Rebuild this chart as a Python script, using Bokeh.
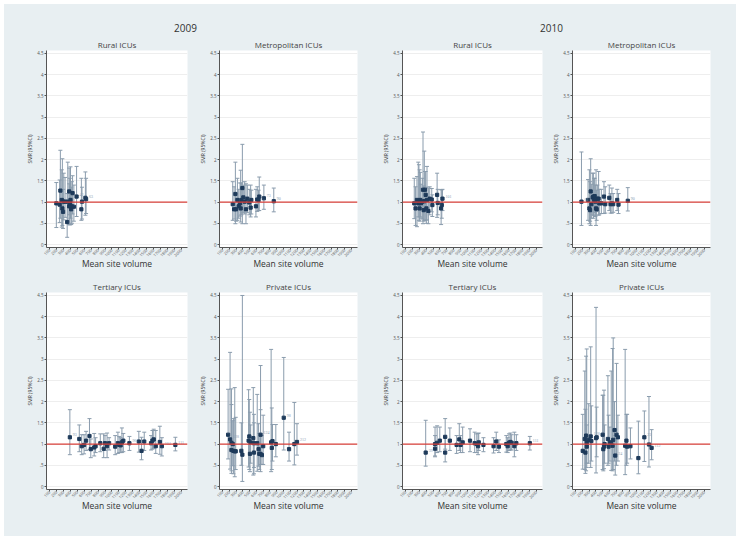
from bokeh.plotting import figure
from bokeh.models import ColumnDataSource, Whisker, TeeHead, Span, FixedTicker, Label, Range1d
from bokeh.layouts import column, row
from bokeh.embed import file_html
from bokeh.resources import INLINE

# ---------------- data ----------------
years = ["2009", "2010"]
panel_names = ["Rural ICUs", "Metropolitan ICUs", "Tertiary ICUs", "Private ICUs"]
x_ticks = list(range(100, 2001, 100))
y_ticks = [0, 0.5, 1, 1.5, 2, 2.5, 3, 3.5, 4, 4.5]
y_tick_labels = ["0", ".5", "1", "1.5", "2", "2.5", "3", "3.5", "4", "4.5"]

# Rural 2009
r09_x   = [198, 246, 256, 276, 285, 295, 305, 324, 354, 363, 383, 383, 393, 402, 412, 422, 432, 451, 490, 559, 568, 617, 627]
r09_smr = [0.97, 0.94, 1.27, 1.05, 0.85, 0.77, 1.01, 1.01, 0.53, 1.01, 1.25, 0.90, 0.97, 1.05, 0.83, 0.90, 1.21, 0.89, 1.13, 0.83, 1.01, 1.10, 1.07]
r09_lo  = [0.40, 0.52, 0.62, 0.41, 0.45, 0.38, 0.58, 0.64, 0.17, 0.55, 0.70, 0.47, 0.46, 0.62, 0.47, 0.50, 0.72, 0.55, 0.66, 0.57, 0.60, 0.69, 0.73]
r09_hi  = [1.46, 1.52, 2.22, 1.76, 2.02, 1.30, 1.68, 1.58, 1.20, 1.94, 1.80, 1.43, 1.56, 1.83, 1.35, 1.48, 1.62, 1.40, 1.84, 1.56, 1.35, 1.71, 1.56]
r09_lab = ["", "", "", "", "", "", "", "", "", "", "", "", "", "", "", "", "", "", "42", "", "", "", "63"]

# Metropolitan 2009
m09_x   = [251, 271, 290, 300, 320, 339, 359, 368, 378, 393, 407, 427, 446, 466, 495, 515, 525, 593, 612, 632, 642, 710, 856]
m09_smr = [0.95, 0.83, 1.19, 0.83, 1.05, 0.90, 0.97, 0.85, 1.05, 1.33, 1.11, 1.01, 0.83, 1.08, 0.99, 0.87, 1.05, 0.90, 1.06, 1.05, 1.13, 1.09, 1.02]
m09_lo  = [0.57, 0.60, 0.49, 0.55, 0.57, 0.62, 0.67, 0.53, 0.70, 0.49, 0.75, 0.72, 0.49, 0.75, 0.70, 0.65, 0.72, 0.65, 0.78, 0.80, 0.80, 0.83, 0.77]
m09_hi  = [1.48, 1.36, 1.94, 1.20, 1.56, 1.30, 1.45, 1.75, 1.45, 2.36, 1.40, 1.48, 1.43, 1.40, 1.30, 1.40, 1.28, 1.30, 1.36, 1.28, 1.59, 1.40, 1.33]
m09_lab = ["", "", "", "", "", "", "", "", "", "", "", "", "", "", "", "", "", "", "", "", "", "73", "90"]

# Tertiary 2009
t09_x   = [393, 529, 564, 598, 627, 676, 695, 744, 764, 832, 881, 900, 930, 959, 1047, 1086, 1105, 1125, 1144, 1164, 1252, 1388, 1427, 1466, 1564, 1584, 1603, 1632, 1691, 1720, 1915]
t09_smr = [1.16, 1.12, 0.95, 0.98, 1.08, 1.19, 0.88, 0.92, 0.95, 1.02, 0.89, 1.02, 0.95, 1.02, 0.94, 1.02, 0.98, 0.97, 1.04, 1.08, 1.02, 1.06, 0.84, 1.06, 1.02, 1.08, 1.11, 0.95, 1.05, 0.95, 0.98]
t09_lo  = [0.75, 0.82, 0.75, 0.77, 0.85, 0.87, 0.68, 0.72, 0.80, 0.82, 0.68, 0.85, 0.68, 0.86, 0.75, 0.78, 0.80, 0.80, 0.80, 0.82, 0.85, 0.81, 0.63, 0.85, 0.86, 0.88, 0.90, 0.78, 0.76, 0.72, 0.84]
t09_hi  = [1.81, 1.45, 1.22, 1.22, 1.30, 1.60, 1.12, 1.25, 1.15, 1.24, 1.24, 1.20, 1.26, 1.15, 1.20, 1.28, 1.18, 1.15, 1.38, 1.25, 1.18, 1.30, 1.16, 1.28, 1.20, 1.32, 1.35, 1.32, 1.42, 1.15, 1.16]
t09_lab = ["93", "", "", "", "", "", "", "", "", "", "", "", "", "", "", "", "", "", "", "", "96", "", "", "", "", "", "", "", "", "104", "111"]

# Private 2009
p09_x   = [183, 212, 232, 232, 251, 261, 281, 295, 378, 393, 485, 495, 505, 515, 554, 564, 564, 612, 632, 642, 661, 661, 681, 700, 817, 827, 837, 886, 1003, 1081, 1159, 1198]
p09_smr = [1.22, 1.11, 1.03, 0.86, 1.00, 0.84, 0.83, 0.83, 0.84, 0.75, 1.08, 1.18, 0.77, 1.04, 1.14, 1.02, 0.80, 1.02, 0.88, 0.77, 1.22, 0.77, 0.74, 0.95, 1.04, 0.91, 1.07, 1.00, 1.62, 0.88, 1.00, 1.05]
p09_lo  = [0.65, 0.41, 0.37, 0.31, 0.49, 0.30, 0.23, 0.40, 0.50, 0.12, 0.46, 0.40, 0.35, 0.55, 0.27, 0.45, 0.30, 0.36, 0.48, 0.40, 0.52, 0.35, 0.52, 0.52, 0.35, 0.40, 0.60, 0.70, 0.86, 0.60, 0.51, 0.74]
p09_hi  = [2.29, 3.16, 2.30, 1.93, 1.55, 1.60, 2.33, 1.63, 1.50, 4.50, 2.28, 2.05, 1.75, 1.45, 2.33, 1.70, 1.50, 2.17, 1.48, 1.25, 2.85, 1.81, 1.20, 1.68, 3.23, 1.85, 1.46, 1.46, 3.04, 1.28, 1.98, 1.48]
p09_lab = ["", "128", "", "", "", "", "", "", "", "", "", "", "", "", "", "", "", "", "", "", "124", "", "", "", "", "", "", "", "98", "", "", "212"]

# Rural 2010
r10_x   = [227, 246, 266, 285, 295, 305, 315, 324, 344, 354, 364, 373, 383, 393, 403, 412, 432, 451, 481, 490, 559, 568, 617, 627, 637]
r10_smr = [0.97, 0.85, 1.05, 0.97, 1.01, 0.85, 1.05, 0.97, 1.01, 1.29, 0.81, 1.02, 1.29, 1.17, 0.85, 1.05, 0.79, 1.08, 1.06, 0.93, 1.17, 0.98, 0.85, 0.93, 1.08]
r10_lo  = [0.61, 0.45, 0.42, 0.65, 0.57, 0.55, 0.65, 0.62, 0.60, 0.49, 0.55, 0.57, 0.80, 0.57, 0.50, 0.58, 0.49, 0.70, 0.77, 0.66, 0.64, 0.70, 0.47, 0.62, 0.80]
r10_hi  = [1.56, 1.36, 1.60, 1.94, 1.88, 1.76, 1.70, 1.42, 1.56, 2.65, 1.38, 2.20, 1.72, 1.72, 1.35, 1.84, 1.33, 1.36, 1.32, 1.17, 1.68, 1.30, 1.29, 1.29, 1.30]
r10_lab = [""] * 24 + ["101"]

# Metropolitan 2010
m10_x   = [188, 285, 305, 315, 324, 334, 354, 364, 373, 383, 393, 403, 412, 422, 441, 451, 481, 520, 539, 598, 617, 637, 656, 715, 734, 871]
m10_smr = [1.01, 1.05, 0.85, 0.81, 1.25, 0.95, 1.11, 1.13, 1.05, 1.14, 1.01, 0.85, 0.83, 1.08, 1.08, 0.97, 0.97, 1.13, 0.95, 1.10, 0.95, 0.97, 0.95, 1.05, 0.94, 1.03]
m10_lo  = [0.45, 0.57, 0.49, 0.55, 0.45, 0.62, 0.70, 0.62, 0.68, 0.75, 0.66, 0.45, 0.57, 0.78, 0.69, 0.70, 0.73, 0.73, 0.74, 0.80, 0.74, 0.74, 0.76, 0.80, 0.73, 0.79]
m10_hi  = [2.18, 1.53, 1.76, 1.48, 2.02, 1.42, 1.68, 1.68, 1.56, 1.56, 1.40, 1.76, 1.28, 1.40, 1.72, 1.30, 1.30, 1.48, 1.36, 1.40, 1.20, 1.33, 1.20, 1.30, 1.20, 1.34]
m10_lab = ["61"] + [""] * 24 + ["90"]

# Tertiary 2010
t10_x   = [393, 529, 529, 559, 598, 676, 676, 744, 842, 881, 900, 930, 1037, 1105, 1135, 1154, 1164, 1232, 1379, 1418, 1457, 1564, 1584, 1603, 1623, 1642, 1681, 1710, 1906]
t10_smr = [0.80, 1.00, 0.89, 1.03, 1.08, 1.17, 0.80, 1.08, 0.98, 1.11, 0.98, 1.04, 1.08, 1.02, 1.00, 0.95, 1.04, 0.98, 0.95, 1.06, 0.94, 1.00, 0.95, 1.03, 1.05, 1.03, 0.95, 1.02, 1.02]
t10_lo  = [0.48, 0.70, 0.72, 0.80, 0.82, 0.88, 0.58, 0.85, 0.78, 0.85, 0.80, 0.80, 0.82, 0.80, 0.80, 0.75, 0.85, 0.82, 0.79, 0.85, 0.80, 0.81, 0.80, 0.85, 0.86, 0.86, 0.70, 0.85, 0.86]
t10_hi  = [1.56, 1.40, 1.20, 1.43, 1.40, 1.60, 1.16, 1.38, 1.20, 1.48, 1.20, 1.40, 1.36, 1.28, 1.24, 1.25, 1.26, 1.15, 1.15, 1.28, 1.10, 1.20, 1.15, 1.24, 1.26, 1.22, 1.28, 1.22, 1.18]
t10_lab = ["39"] + [""] * 27 + ["111"]

# Private 2010
p10_x   = [207, 237, 246, 256, 266, 266, 295, 324, 334, 403, 412, 500, 510, 520, 529, 578, 588, 607, 627, 647, 656, 676, 686, 705, 725, 832, 851, 861, 910, 1027, 1115, 1183, 1222]
p10_smr = [0.84, 1.12, 0.80, 1.20, 1.04, 0.94, 1.10, 1.18, 1.07, 1.14, 1.16, 1.22, 0.88, 0.94, 1.00, 1.12, 0.94, 1.04, 1.03, 0.96, 1.10, 1.33, 0.73, 1.22, 1.16, 0.96, 1.08, 0.94, 0.95, 0.67, 1.16, 0.99, 0.91]
p10_lo  = [0.41, 0.40, 0.31, 0.37, 0.45, 0.55, 0.55, 0.45, 0.60, 0.32, 0.70, 0.40, 0.37, 0.42, 0.55, 0.50, 0.55, 0.60, 0.38, 0.37, 0.40, 0.60, 0.27, 0.50, 0.60, 0.28, 0.50, 0.55, 0.65, 0.30, 0.59, 0.46, 0.63]
p10_hi  = [1.70, 2.72, 1.82, 3.07, 3.24, 1.45, 1.95, 3.29, 1.90, 4.22, 1.87, 2.15, 2.15, 2.27, 1.45, 2.61, 1.68, 1.40, 2.72, 3.25, 3.50, 2.00, 1.20, 2.90, 1.68, 3.23, 1.70, 1.70, 1.38, 1.54, 1.78, 2.12, 1.34]
p10_lab = ["", "", "", "", "", "", "", "128", "", "", "", "", "", "", "", "", "", "", "", "", "", "", "24", "", "", "", "", "", "", "", "23", "", "112"]

# ---------------- styling ----------------
BG = "#e8eff2"
FONT = "Open Sans"
PT = "#1e3a5a"
BAR = "#8a9cad"
LAB = "#8aa0b4"

def panel(name, xs, smr, lo, hi, lab, width, left, right, top, bottom, height):
    p = figure(width=width, height=height, x_range=Range1d(56, 2090), y_range=Range1d(-0.07, 4.57),
               output_backend="svg", toolbar_location=None, title=name,
               min_border_left=left, min_border_right=right, min_border_top=top, min_border_bottom=bottom)
    p.background_fill_color = "white"
    p.border_fill_color = BG
    p.outline_line_color = None
    p.title.align = "center"
    p.title.text_font = FONT
    p.title.text_font_size = "8px"
    p.title.text_font_style = "normal"
    p.title.text_color = "#444444"
    p.title.standoff = 1
    src = ColumnDataSource(dict(x=xs, smr=smr, lo=lo, hi=hi, lab=lab))
    w = Whisker(source=src, base="x", upper="hi", lower="lo", dimension="height",
                line_color=BAR, line_width=1,
                upper_head=TeeHead(size=4, line_color=BAR, line_width=1),
                lower_head=TeeHead(size=4, line_color=BAR, line_width=1))
    p.add_layout(w)
    p.add_layout(Span(location=1, dimension="width", line_color="#d9403a", line_width=1.2))
    p.scatter("x", "smr", source=src, size=3.2, marker="square", color=PT)
    p.text("x", "smr", text="lab", source=src, x_offset=3, y_offset=-1, text_font_size="4px",
           text_color=LAB, text_baseline="bottom", text_font=FONT)
    # axes
    p.xaxis.ticker = FixedTicker(ticks=x_ticks)
    p.yaxis.ticker = FixedTicker(ticks=y_ticks)
    p.yaxis.major_label_overrides = {t: l for t, l in zip(y_ticks, y_tick_labels)}
    p.xaxis.major_label_orientation = 0.785
    for ax in (p.xaxis, p.yaxis):
        ax.axis_line_color = "#555555"
        ax.major_tick_line_color = "#555555"
        ax.major_tick_out = 2
        ax.major_tick_in = 0
        ax.minor_tick_line_color = None
        ax.major_label_text_font = FONT
        ax.major_label_text_font_size = "4.5px"
        ax.major_label_text_color = "#555555"
        ax.major_label_standoff = 1
        ax.axis_label_text_font = FONT
        ax.axis_label_text_font_style = "normal"
        ax.axis_label_text_color = "#333333"
        ax.axis_label_standoff = 1
    p.xaxis.major_label_text_font_size = "4px"
    p.xaxis.major_label_standoff = 0
    p.xaxis.axis_label_standoff = -3
    p.xaxis.axis_label = "Mean site volume"
    p.xaxis.axis_label_text_font_size = "8.5px"
    p.yaxis.axis_label = "SMR (95%CI)"
    p.yaxis.axis_label_text_font_size = "5px"
    p.xgrid.grid_line_color = None
    p.ygrid.grid_line_color = "#eeeeee"
    return p

datasets = {
    ("2009", 0): (r09_x, r09_smr, r09_lo, r09_hi, r09_lab),
    ("2009", 1): (m09_x, m09_smr, m09_lo, m09_hi, m09_lab),
    ("2009", 2): (t09_x, t09_smr, t09_lo, t09_hi, t09_lab),
    ("2009", 3): (p09_x, p09_smr, p09_lo, p09_hi, p09_lab),
    ("2010", 0): (r10_x, r10_smr, r10_lo, r10_hi, r10_lab),
    ("2010", 1): (m10_x, m10_smr, m10_lo, m10_hi, m10_lab),
    ("2010", 2): (t10_x, t10_smr, t10_lo, t10_hi, t10_lab),
    ("2010", 3): (p10_x, p10_smr, p10_lo, p10_hi, p10_lab),
}

# column geometry: (width, left border, right border)
cols = [(188, 42, 5), (170, 27, 5), (185, 40, 5), (189, 25, 26)]
col_keys = [("2009", 0), ("2009", 1), ("2010", 0), ("2010", 1)]
col_keys_b = [("2009", 2), ("2009", 3), ("2010", 2), ("2010", 3)]

top_figs = []
bot_figs = []
for (w, l, r), k in zip(cols, col_keys):
    top_figs.append(panel(panel_names[k[1]], *datasets[k], w, l, r, 14, 31, 242))
for (w, l, r), k in zip(cols, col_keys_b):
    bot_figs.append(panel(panel_names[k[1]], *datasets[k], w, l, r, 14, 47, 258))

header = figure(width=732, height=32, x_range=Range1d(0, 732), y_range=Range1d(0, 32),
                output_backend="svg", toolbar_location=None,
                min_border_left=0, min_border_right=0, min_border_top=0, min_border_bottom=0)
header.axis.visible = False
header.grid.visible = False
header.outline_line_color = None
header.background_fill_color = BG
header.border_fill_color = BG
for yr, cx in zip(years, [181, 547]):
    header.add_layout(Label(x=cx, y=9, text=yr, text_align="center", text_baseline="middle",
                            text_font=FONT, text_font_size="10px", text_color="#333333"))

sty = {"background-color": BG}
layout = column(header, row(*top_figs, spacing=0, styles=sty), row(*bot_figs, spacing=0, styles=sty),
                spacing=0, styles={"background-color": BG, "margin": "4px"})

open("out.html", "w").write(file_html(layout, INLINE))
